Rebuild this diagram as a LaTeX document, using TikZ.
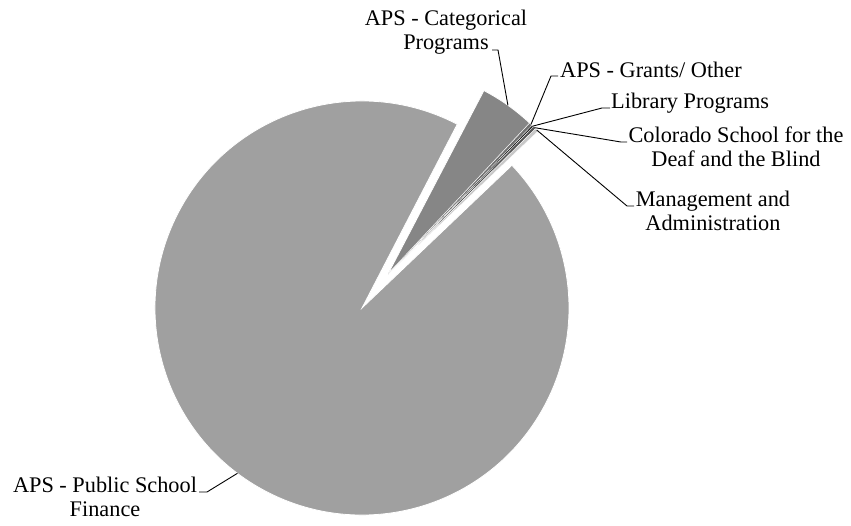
\documentclass[tikz,border=0pt]{standalone}
\usepackage{fontspec}
\setmainfont{Liberation Serif}
\definecolor{piecolor0001}{RGB}{160,160,160}
\definecolor{piecolor0002}{RGB}{134,134,134}
\definecolor{piecolor0003}{RGB}{112,112,112}
\definecolor{piecolor0004}{RGB}{30,30,30}
\definecolor{piecolor0005}{RGB}{84,84,84}
\definecolor{piecolor0006}{RGB}{200,200,200}
\begin{document}
\begin{tikzpicture}[yscale=-1
,pstyle0/.style={color=white,line width=0.8pt}
,pstyle1/.style={color=black,line width=0.9pt}
,pstyle2/.style={color=white,line width=0.3pt}
,lstyle/.style={color=black,inner sep=0pt,align=center,font=\fontsize{22.3pt}{24pt}\selectfont}
]
\useasboundingbox (0pt,0pt) rectangle (851pt,525pt);
\coordinate (bigC) at (362pt,308pt);
\coordinate (smallC) at (388pt,274pt);
\draw[pstyle0,fill=piecolor0001] (bigC) -- ++(-62.6:207pt) arc[start angle=-62.6,end angle=-403.6,radius=207pt] -- cycle;
\draw[pstyle0,fill=piecolor0002] (smallC) -- ++(-62.4:207pt) arc[start angle=-62.4,end angle=-46.8,radius=207pt] -- cycle;
\draw[pstyle2,fill=piecolor0003] (smallC) -- ++(-46.8:207pt) arc[start angle=-46.8,end angle=-45.9,radius=207pt] -- cycle;
\draw[pstyle2,fill=piecolor0004] (smallC) -- ++(-45.9:207pt) arc[start angle=-45.9,end angle=-45.4,radius=207pt] -- cycle;
\draw[pstyle2,fill=piecolor0005] (smallC) -- ++(-45.4:207pt) arc[start angle=-45.4,end angle=-44.6,radius=207pt] -- cycle;
\draw[pstyle2,fill=piecolor0006] (smallC) -- ++(-44.6:207pt) arc[start angle=-44.6,end angle=-43.6,radius=207pt] -- cycle;
\coordinate (psfPt) at ([shift={(-233:207pt)}]bigC);
\coordinate (catPt) at ([shift={(-54.6:207pt)}]smallC);
\coordinate (grantPt) at ([shift={(-46.3:207pt)}]smallC);
\coordinate (libPt) at ([shift={(-45.6:207pt)}]smallC);
\coordinate (csdbPt) at ([shift={(-45.0:207pt)}]smallC);
\coordinate (mgmtPt) at ([shift={(-44.1:207pt)}]smallC);
\node[lstyle,anchor=base] (catLbl) at (446pt,49pt) {APS - Categorical\\Programs};
\node[lstyle,anchor=base west] (grantLbl) at (560pt,77pt) {APS - Grants/ Other};
\node[lstyle,anchor=base west] (libLbl) at (611pt,108pt) {Library Programs};
\node[lstyle,anchor=base] (csdbLbl) at (736pt,166pt) {Colorado School for the\\Deaf and the Blind};
\node[lstyle,anchor=base] (mgmtLbl) at (713pt,230pt) {Management and\\Administration};
\node[lstyle,anchor=base] (psfLbl) at (105pt,516pt) {APS - Public School\\Finance};
\coordinate (catKnee) at (498pt,50pt);
\coordinate (catTick) at (492pt,50pt);
\coordinate (grantKnee) at (551pt,76pt);
\coordinate (grantTick) at (558pt,76pt);
\coordinate (libKnee) at (602pt,108pt);
\coordinate (libTick) at (610pt,108pt);
\coordinate (csdbKnee) at (621pt,142pt);
\coordinate (csdbTick) at (627pt,142pt);
\coordinate (mgmtKnee) at (627pt,206pt);
\coordinate (mgmtTick) at (634pt,206pt);
\coordinate (psfKnee) at (207pt,492pt);
\coordinate (psfTick) at (199pt,492pt);
\draw[pstyle1] (catPt) -- (catKnee) -- (catTick);
\draw[pstyle1] (grantPt) -- (grantKnee) -- (grantTick);
\draw[pstyle1] (libPt) -- (libKnee) -- (libTick);
\draw[pstyle1] (csdbPt) -- (csdbKnee) -- (csdbTick);
\draw[pstyle1] (mgmtPt) -- (mgmtKnee) -- (mgmtTick);
\draw[pstyle1] (psfPt) -- (psfKnee) -- (psfTick);
\end{tikzpicture}
\end{document}
